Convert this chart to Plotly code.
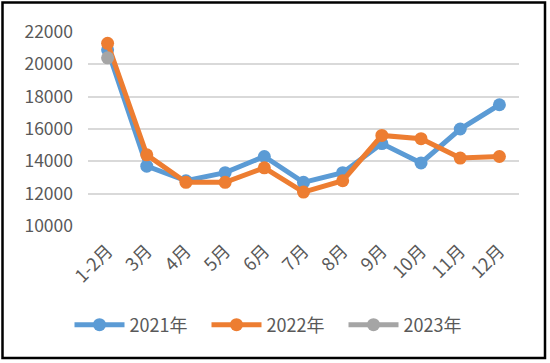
import plotly.graph_objects as go

categories = ["1-2月", "3月", "4月", "5月", "6月", "7月", "8月", "9月", "10月", "11月", "12月"]
y2021 = [20900, 13700, 12800, 13300, 14300, 12700, 13300, 15100, 13900, 16000, 17500]
y2022 = [21300, 14400, 12700, 12700, 13600, 12100, 12800, 15600, 15400, 14200, 14300]
y2023 = [20400]
series_names = ["2021年", "2022年", "2023年"]
colors = ["#5B9BD5", "#ED7D31", "#A5A5A5"]
yticks = [10000, 12000, 14000, 16000, 18000, 20000, 22000]
yticklabels = ["10000", "12000", "14000", "16000", "18000", "20000", "22000"]

W, H = 550, 363
L, R, T, B = 88, 31, 32, 137
FONT = "Noto Sans CJK SC, Noto Sans, sans-serif"

fig = go.Figure()
for name, ys, c in zip(series_names, [y2021, y2022, y2023], colors):
    fig.add_trace(go.Scatter(
        x=categories[:len(ys)], y=ys, name=name, mode="lines+markers",
        line=dict(color=c, width=5), marker=dict(color=c, size=13),
        cliponaxis=False,
    ))

pw = W - L - R
ph = H - T - B
def px_x(x):
    return (x - L) / pw
def px_y(y):
    return (H - B - y) / ph

fig.add_shape(type="rect", xref="paper", yref="paper",
              x0=px_x(2.5), x1=px_x(545), y0=px_y(358), y1=px_y(2.5),
              line=dict(color="black", width=2.5), layer="above")

fig.update_layout(
    width=W, height=H,
    margin=dict(l=L, r=R, t=T, b=B, autoexpand=False),
    paper_bgcolor="white", plot_bgcolor="white",
    font=dict(family=FONT, color="#595959", size=17),
    showlegend=True,
    legend=dict(orientation="h", x=0.5, xanchor="center", xref="container",
                y=1 - 325 / H, yanchor="middle", yref="container",
                font=dict(size=18, color="#595959"), itemwidth=50, entrywidth=72,
                traceorder="normal"),
    xaxis=dict(type="category", categoryorder="array", categoryarray=categories,
               range=[-0.5, 10.5], showgrid=False, zeroline=False, showline=False,
               tickangle=-45, tickfont=dict(size=18), ticks="", automargin=False,
               ticklabelstandoff=10),
    yaxis=dict(range=[10000, 22000], tickvals=yticks, ticktext=yticklabels, showgrid=True,
               gridcolor="#D9D9D9", gridwidth=1.5, zeroline=False, showline=False,
               tickfont=dict(size=17.5), ticks="", ticklabelstandoff=14, automargin=False),
)

fig.write_html("out.html", config={"displayModeBar": False},
               post_script="document.body.style.margin='0';")
